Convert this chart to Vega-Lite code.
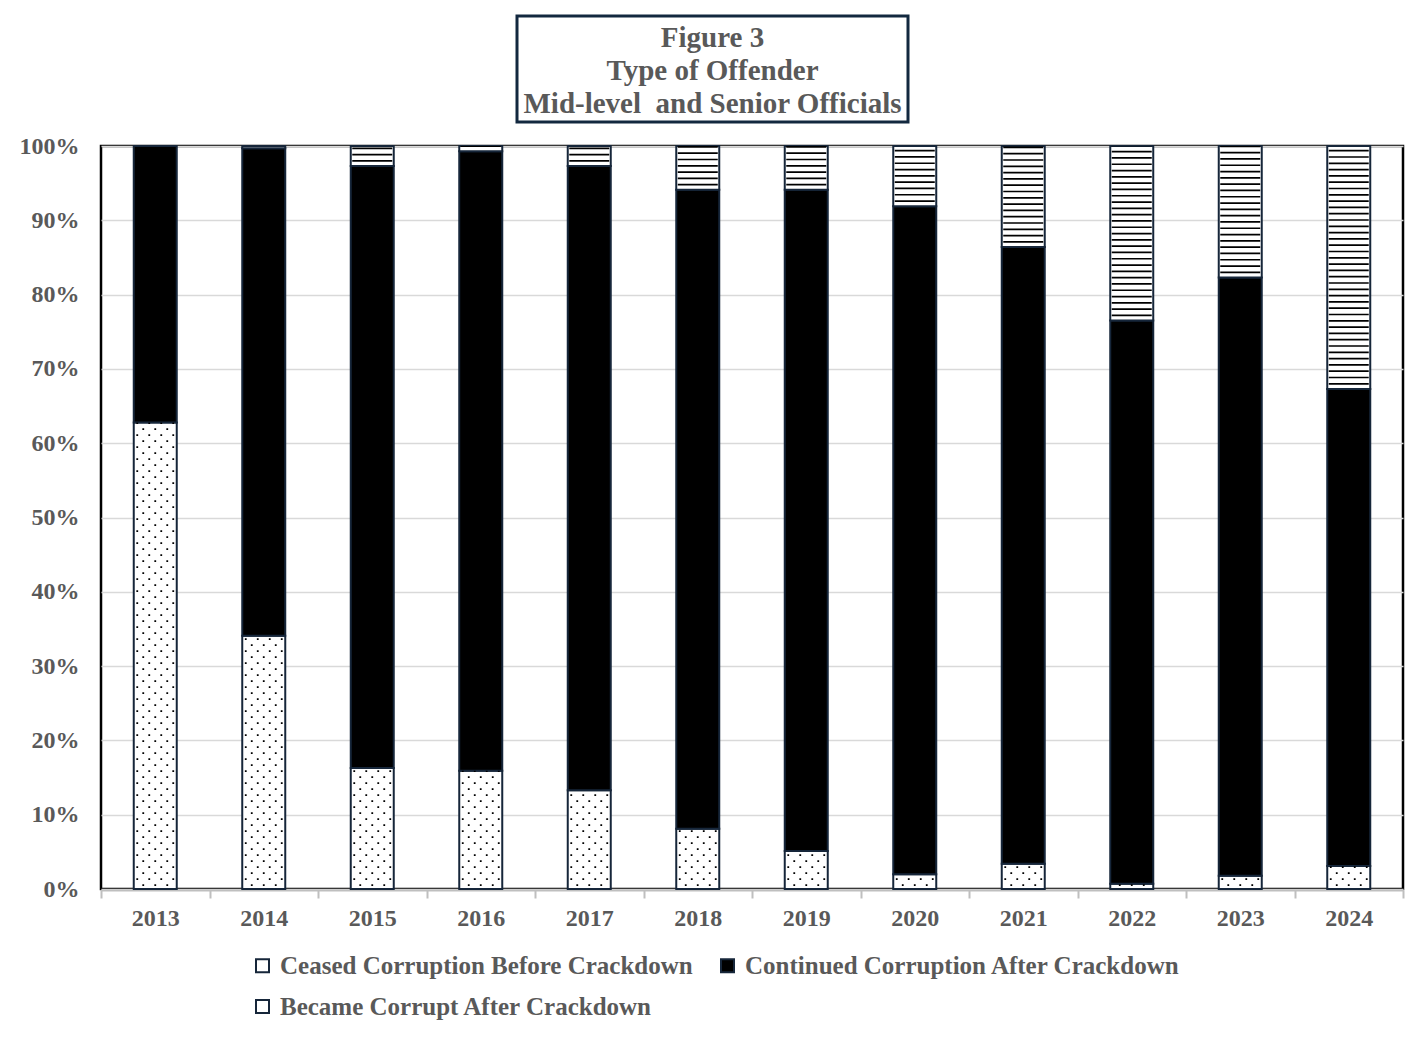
{
  "$schema": "https://vega.github.io/schema/vega-lite/v6.json",
  "background": "white",
  "padding": {"top": 14, "left": 17, "right": 0, "bottom": 0},
  "spacing": 0,
  "config": {
    "font": "Liberation Serif",
    "view": {"stroke": null}
  },
  "vconcat": [
    {
      "spacing": 0,
      "hconcat": [
        {
          "width": 414,
          "height": 106,
          "data": {"values": [{"line": ""}]},
          "mark": {"type": "text", "opacity": 0},
          "encoding": {"text": {"field": "line"}}
        },
        {
          "width": 391,
          "height": 106,
          "view": {"stroke": "#12283f", "strokeWidth": 3, "fill": "white"},
          "data": {
            "values": [
              {"line": "Figure 3", "i": 1},
              {"line": "Type of Offender", "i": 2},
              {"line": "Mid-level\u00a0 and Senior Officials", "i": 3}
            ]
          },
          "mark": {"type": "text", "font": "Liberation Serif", "fontWeight": "bold", "fontSize": 29, "color": "#595959", "dy": 2},
          "encoding": {
            "y": {"field": "i", "type": "ordinal", "axis": null, "scale": {"type": "point", "padding": 0.6}},
            "text": {"field": "line"}
          }
        }
      ]
    },
    {
      "width": 1302,
      "height": 743,
      "view": {"stroke": "#000000", "strokeWidth": 2.5},
      "data": {
        "values": [
          {"year": "2013", "type": "Ceased Corruption Before Crackdown", "order": 1, "value": 0.628},
          {"year": "2013", "type": "Continued Corruption After Crackdown", "order": 2, "value": 0.372},
          {"year": "2013", "type": "Became Corrupt After Crackdown", "order": 3, "value": 0.0},
          {"year": "2014", "type": "Ceased Corruption Before Crackdown", "order": 1, "value": 0.341},
          {"year": "2014", "type": "Continued Corruption After Crackdown", "order": 2, "value": 0.656},
          {"year": "2014", "type": "Became Corrupt After Crackdown", "order": 3, "value": 0.003},
          {"year": "2015", "type": "Ceased Corruption Before Crackdown", "order": 1, "value": 0.163},
          {"year": "2015", "type": "Continued Corruption After Crackdown", "order": 2, "value": 0.810},
          {"year": "2015", "type": "Became Corrupt After Crackdown", "order": 3, "value": 0.027},
          {"year": "2016", "type": "Ceased Corruption Before Crackdown", "order": 1, "value": 0.159},
          {"year": "2016", "type": "Continued Corruption After Crackdown", "order": 2, "value": 0.834},
          {"year": "2016", "type": "Became Corrupt After Crackdown", "order": 3, "value": 0.007},
          {"year": "2017", "type": "Ceased Corruption Before Crackdown", "order": 1, "value": 0.133},
          {"year": "2017", "type": "Continued Corruption After Crackdown", "order": 2, "value": 0.840},
          {"year": "2017", "type": "Became Corrupt After Crackdown", "order": 3, "value": 0.027},
          {"year": "2018", "type": "Ceased Corruption Before Crackdown", "order": 1, "value": 0.081},
          {"year": "2018", "type": "Continued Corruption After Crackdown", "order": 2, "value": 0.860},
          {"year": "2018", "type": "Became Corrupt After Crackdown", "order": 3, "value": 0.059},
          {"year": "2019", "type": "Ceased Corruption Before Crackdown", "order": 1, "value": 0.051},
          {"year": "2019", "type": "Continued Corruption After Crackdown", "order": 2, "value": 0.890},
          {"year": "2019", "type": "Became Corrupt After Crackdown", "order": 3, "value": 0.059},
          {"year": "2020", "type": "Ceased Corruption Before Crackdown", "order": 1, "value": 0.020},
          {"year": "2020", "type": "Continued Corruption After Crackdown", "order": 2, "value": 0.899},
          {"year": "2020", "type": "Became Corrupt After Crackdown", "order": 3, "value": 0.081},
          {"year": "2021", "type": "Ceased Corruption Before Crackdown", "order": 1, "value": 0.034},
          {"year": "2021", "type": "Continued Corruption After Crackdown", "order": 2, "value": 0.830},
          {"year": "2021", "type": "Became Corrupt After Crackdown", "order": 3, "value": 0.136},
          {"year": "2022", "type": "Ceased Corruption Before Crackdown", "order": 1, "value": 0.007},
          {"year": "2022", "type": "Continued Corruption After Crackdown", "order": 2, "value": 0.758},
          {"year": "2022", "type": "Became Corrupt After Crackdown", "order": 3, "value": 0.235},
          {"year": "2023", "type": "Ceased Corruption Before Crackdown", "order": 1, "value": 0.018},
          {"year": "2023", "type": "Continued Corruption After Crackdown", "order": 2, "value": 0.805},
          {"year": "2023", "type": "Became Corrupt After Crackdown", "order": 3, "value": 0.177},
          {"year": "2024", "type": "Ceased Corruption Before Crackdown", "order": 1, "value": 0.031},
          {"year": "2024", "type": "Continued Corruption After Crackdown", "order": 2, "value": 0.642},
          {"year": "2024", "type": "Became Corrupt After Crackdown", "order": 3, "value": 0.327}
        ]
      },
      "transform": [
        {"stack": "value", "groupby": ["year"], "sort": [{"field": "order", "order": "ascending"}], "as": ["v0", "v1"]}
      ],
      "encoding": {
        "x": {
          "field": "year", "type": "ordinal", "title": null,
          "scale": {"paddingInner": 0, "paddingOuter": 0},
          "axis": {
            "labelAngle": 0, "labelFont": "Liberation Serif", "labelFontWeight": "bold", "labelFontSize": 24,
            "labelColor": "#595959", "labelPadding": 8, "tickBand": "extent", "tickColor": "#bfbfbf",
            "tickSize": 8, "tickWidth": 2, "domainColor": "#bfbfbf", "domainWidth": 2, "grid": false, "offset": 1
          }
        },
        "y": {
          "field": "v0", "type": "quantitative", "title": null,
          "scale": {"domain": [0, 1], "nice": false},
          "axis": {
            "values": [0, 0.1, 0.2, 0.3, 0.4, 0.5, 0.6, 0.7, 0.8, 0.9, 1.0],
            "format": ".0%", "labelFont": "Liberation Serif", "labelFontWeight": "bold", "labelFontSize": 24,
            "labelColor": "#595959", "labelPadding": 22, "ticks": false, "domain": false,
            "gridColor": "#d9d9d9", "gridWidth": 1.5
          }
        },
        "y2": {"field": "v1"}
      },
      "layer": [
        {
          "mark": {"type": "bar", "size": 43, "stroke": "#16263a", "strokeWidth": 2},
          "encoding": {
            "fill": {
              "field": "type", "type": "nominal",
              "scale": {
                "domain": ["Ceased Corruption Before Crackdown", "Continued Corruption After Crackdown", "Became Corrupt After Crackdown"],
                "range": ["#ffffff", "#000000", "#ffffff"]
              },
              "legend": {
                "orient": "none", "legendX": 149, "legendY": 937, "direction": "horizontal", "columns": 2,
                "title": null, "symbolType": "square", "symbolSize": 169, "symbolStrokeColor": "#16263a",
                "symbolStrokeWidth": 2, "labelFont": "Liberation Serif", "labelFontWeight": "bold",
                "labelFontSize": 25, "labelColor": "#595959", "labelOffset": 5, "columnPadding": 22,
                "rowPadding": 15, "labelLimit": 0
              }
            }
          }
        },
        {
          "transform": [{"filter": "datum.type === 'Ceased Corruption Before Crackdown'"}],
          "mark": {"type": "rule", "color": "#000000", "strokeWidth": 1.8, "strokeDash": [1.8, 10.2], "strokeDashOffset": 3, "xOffset": -18},
          "encoding": {}
        },
        {
          "transform": [{"filter": "datum.type === 'Ceased Corruption Before Crackdown'"}],
          "mark": {"type": "rule", "color": "#000000", "strokeWidth": 1.8, "strokeDash": [1.8, 10.2], "strokeDashOffset": 9, "xOffset": -12},
          "encoding": {}
        },
        {
          "transform": [{"filter": "datum.type === 'Ceased Corruption Before Crackdown'"}],
          "mark": {"type": "rule", "color": "#000000", "strokeWidth": 1.8, "strokeDash": [1.8, 10.2], "strokeDashOffset": 3, "xOffset": -6},
          "encoding": {}
        },
        {
          "transform": [{"filter": "datum.type === 'Ceased Corruption Before Crackdown'"}],
          "mark": {"type": "rule", "color": "#000000", "strokeWidth": 1.8, "strokeDash": [1.8, 10.2], "strokeDashOffset": 9, "xOffset": 0},
          "encoding": {}
        },
        {
          "transform": [{"filter": "datum.type === 'Ceased Corruption Before Crackdown'"}],
          "mark": {"type": "rule", "color": "#000000", "strokeWidth": 1.8, "strokeDash": [1.8, 10.2], "strokeDashOffset": 3, "xOffset": 6},
          "encoding": {}
        },
        {
          "transform": [{"filter": "datum.type === 'Ceased Corruption Before Crackdown'"}],
          "mark": {"type": "rule", "color": "#000000", "strokeWidth": 1.8, "strokeDash": [1.8, 10.2], "strokeDashOffset": 9, "xOffset": 12},
          "encoding": {}
        },
        {
          "transform": [{"filter": "datum.type === 'Ceased Corruption Before Crackdown'"}],
          "mark": {"type": "rule", "color": "#000000", "strokeWidth": 1.8, "strokeDash": [1.8, 10.2], "strokeDashOffset": 3, "xOffset": 18},
          "encoding": {}
        },
        {
          "transform": [{"filter": "datum.type === 'Became Corrupt After Crackdown' && datum.value > 0"}],
          "mark": {"type": "rule", "color": "#000000", "strokeWidth": 40, "strokeDash": [1.7, 4.6], "strokeDashOffset": 2},
          "encoding": {}
        }
      ]
    }
  ]
}
